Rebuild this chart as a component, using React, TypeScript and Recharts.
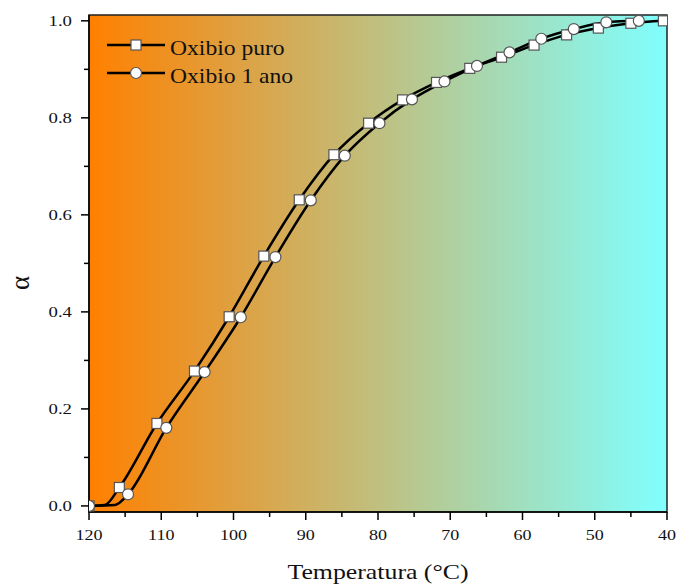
import { LineChart, Line, XAxis, YAxis, ReferenceArea } from "recharts";

// Oxibio puro (squares)
const puroTemps = [120, 115.8, 110.6, 105.4, 100.6, 95.8, 90.9, 86.1, 81.3, 76.6, 71.9, 67.3, 62.9, 58.4, 53.9, 49.5, 45.0, 40.5];
const puroAlpha = [0, 0.038, 0.17, 0.278, 0.39, 0.515, 0.631, 0.724, 0.789, 0.837, 0.873, 0.902, 0.925, 0.95, 0.971, 0.985, 0.995, 1.0];
// curve-only point where the line leaves zero (no marker)
const puroBendTemps = [117.8];
const puroBendAlpha = [0.002];

// Oxibio 1 ano (circles)
const anoTemps = [120, 114.6, 109.3, 104.0, 99.0, 94.2, 89.3, 84.6, 79.8, 75.3, 70.8, 66.3, 61.8, 57.4, 52.9, 48.4, 43.9];
const anoAlpha = [0, 0.024, 0.161, 0.276, 0.389, 0.513, 0.63, 0.722, 0.789, 0.838, 0.875, 0.907, 0.935, 0.963, 0.983, 0.997, 1.0];
const anoBendTemps = [116.4];
const anoBendAlpha = [0.002];

const xTicks = [120, 115, 110, 105, 100, 95, 90, 85, 80, 75, 70, 65, 60, 55, 50, 45, 40];
const yTicks = [0, 0.1, 0.2, 0.3, 0.4, 0.5, 0.6, 0.7, 0.8, 0.9, 1.0];

const X_DOMAIN: [number, number] = [40, 120];
const Y_DOMAIN: [number, number] = [-0.0125, 1.012];

const FONT = '"Liberation Serif", "Times New Roman", serif';

type Pt = { t: number; a: number; mark: boolean };

function buildSeries(temps: number[], alpha: number[], bendT: number[], bendA: number[]): Pt[] {
  const pts: Pt[] = temps.map((t, i) => ({ t, a: alpha[i], mark: true }));
  bendT.forEach((t, i) => pts.push({ t, a: bendA[i], mark: false }));
  // left-to-right on screen = descending temperature
  return pts.sort((p, q) => q.t - p.t);
}

const puroData = buildSeries(puroTemps, puroAlpha, puroBendTemps, puroBendAlpha);
const anoData = buildSeries(anoTemps, anoAlpha, anoBendTemps, anoBendAlpha);

const squareDot = (props: any) => {
  const { cx, cy, payload, index } = props;
  if (!payload.mark) return <g key={`s-${index}`} />;
  return (
    <rect key={`s-${index}`} x={cx - 5} y={cy - 5} width={10} height={10}
      fill="#fff" stroke="#555" strokeWidth={1.2} />
  );
};

const circleDot = (props: any) => {
  const { cx, cy, payload, index } = props;
  if (!payload.mark) return <g key={`c-${index}`} />;
  return <circle key={`c-${index}`} cx={cx} cy={cy} r={5.5} fill="#fff" stroke="#555" strokeWidth={1.2} />;
};

const XTick = (props: any) => {
  const { x, y, payload } = props;
  const major = payload.value % 10 === 0;
  return (
    <g>
      <line x1={x} y1={y} x2={x} y2={y + (major ? 8 : 5)} stroke="#000" strokeWidth={1.5} />
      {major && (
        <text transform={`translate(${x},${y + 28}) scale(1.2,1)`} textAnchor="middle"
          fontFamily={FONT} fontSize={15} fill="#111">
          {payload.value}
        </text>
      )}
    </g>
  );
};

const YTick = (props: any) => {
  const { x, y, payload, index } = props;
  const major = index % 2 === 0;
  return (
    <g>
      <line x1={x} y1={y} x2={x - (major ? 8 : 5)} y2={y} stroke="#000" strokeWidth={1.5} />
      {major && (
        <text transform={`translate(${x - 17},${y + 5}) scale(1.25,1)`} textAnchor="end"
          fontFamily={FONT} fontSize={15} fill="#111">
          {payload.value.toFixed(1)}
        </text>
      )}
    </g>
  );
};

function LegendOverlay() {
  const rows = [
    { label: "Oxibio puro", y: 45, shape: "square" },
    { label: "Oxibio 1 ano", y: 73, shape: "circle" },
  ];
  return (
    <svg width={678} height={585} style={{ position: "absolute", left: 0, top: 0, pointerEvents: "none" }}>
      {rows.map((r) => (
        <g key={r.label}>
          <line x1={107} y1={r.y} x2={165} y2={r.y} stroke="#000" strokeWidth={2.5} />
          {r.shape === "square" ? (
            <rect x={131} y={r.y - 5} width={10} height={10} fill="#fff" stroke="#555" strokeWidth={1.2} />
          ) : (
            <circle cx={136} cy={r.y} r={5.5} fill="#fff" stroke="#555" strokeWidth={1.2} />
          )}
          <text transform={`translate(170,${r.y + 9.5}) scale(1.18,1)`} fontFamily={FONT} fontSize={20} fill="#111">
            {r.label}
          </text>
        </g>
      ))}
    </svg>
  );
}

export default function App() {
  return (
    <div style={{ position: "fixed", left: 0, top: 0, width: 678, height: 585, background: "#fff" }}>
      <LineChart width={678} height={585} margin={{ top: 15, right: 11, bottom: 0, left: 0 }}>
        <defs>
          <linearGradient id="bgGrad" x1="0" y1="0" x2="1" y2="0">
            <stop offset="0%" stopColor="#ff8000" />
            <stop offset="100%" stopColor="#80ffff" />
          </linearGradient>
        </defs>
        <XAxis
          type="number"
          dataKey="t"
          domain={X_DOMAIN}
          reversed
          allowDataOverflow
          ticks={xTicks}
          interval={0}
          tickSize={0}
          tickMargin={0}
          tickLine={false}
          axisLine={{ stroke: "#000", strokeWidth: 1.5 }}
          tick={XTick}
          height={73}
          label={() => (
            <text transform="translate(378,579) scale(1.23,1)" textAnchor="middle"
              fontFamily={FONT} fontSize={21} fill="#111">
              Temperatura (°C)
            </text>
          )}
        />
        <YAxis
          type="number"
          dataKey="a"
          domain={Y_DOMAIN}
          allowDataOverflow
          ticks={yTicks}
          interval={0}
          tickSize={0}
          tickMargin={0}
          tickLine={false}
          axisLine={{ stroke: "#000", strokeWidth: 1.5 }}
          tick={YTick}
          width={89}
          label={() => (
            <text transform="translate(29,283) rotate(-90)" textAnchor="middle"
              fontFamily={FONT} fontSize={27} fill="#111">
              α
            </text>
          )}
        />
        <ReferenceArea x1={X_DOMAIN[0]} x2={X_DOMAIN[1]} y1={Y_DOMAIN[0]} y2={Y_DOMAIN[1]}
          fill="url(#bgGrad)" fillOpacity={1} stroke="none" />
        <Line data={puroData} dataKey="a" type="monotone" stroke="#000" strokeWidth={2.5}
          dot={squareDot} activeDot={false} isAnimationActive={false} />
        <Line data={anoData} dataKey="a" type="monotone" stroke="#000" strokeWidth={2.5}
          dot={circleDot} activeDot={false} isAnimationActive={false} />
        <ReferenceArea x1={X_DOMAIN[0]} x2={X_DOMAIN[1]} y1={Y_DOMAIN[0]} y2={Y_DOMAIN[1]}
          fill="none" fillOpacity={0} stroke="#222" strokeWidth={1.5} />
      </LineChart>
      <LegendOverlay />
    </div>
  );
}
